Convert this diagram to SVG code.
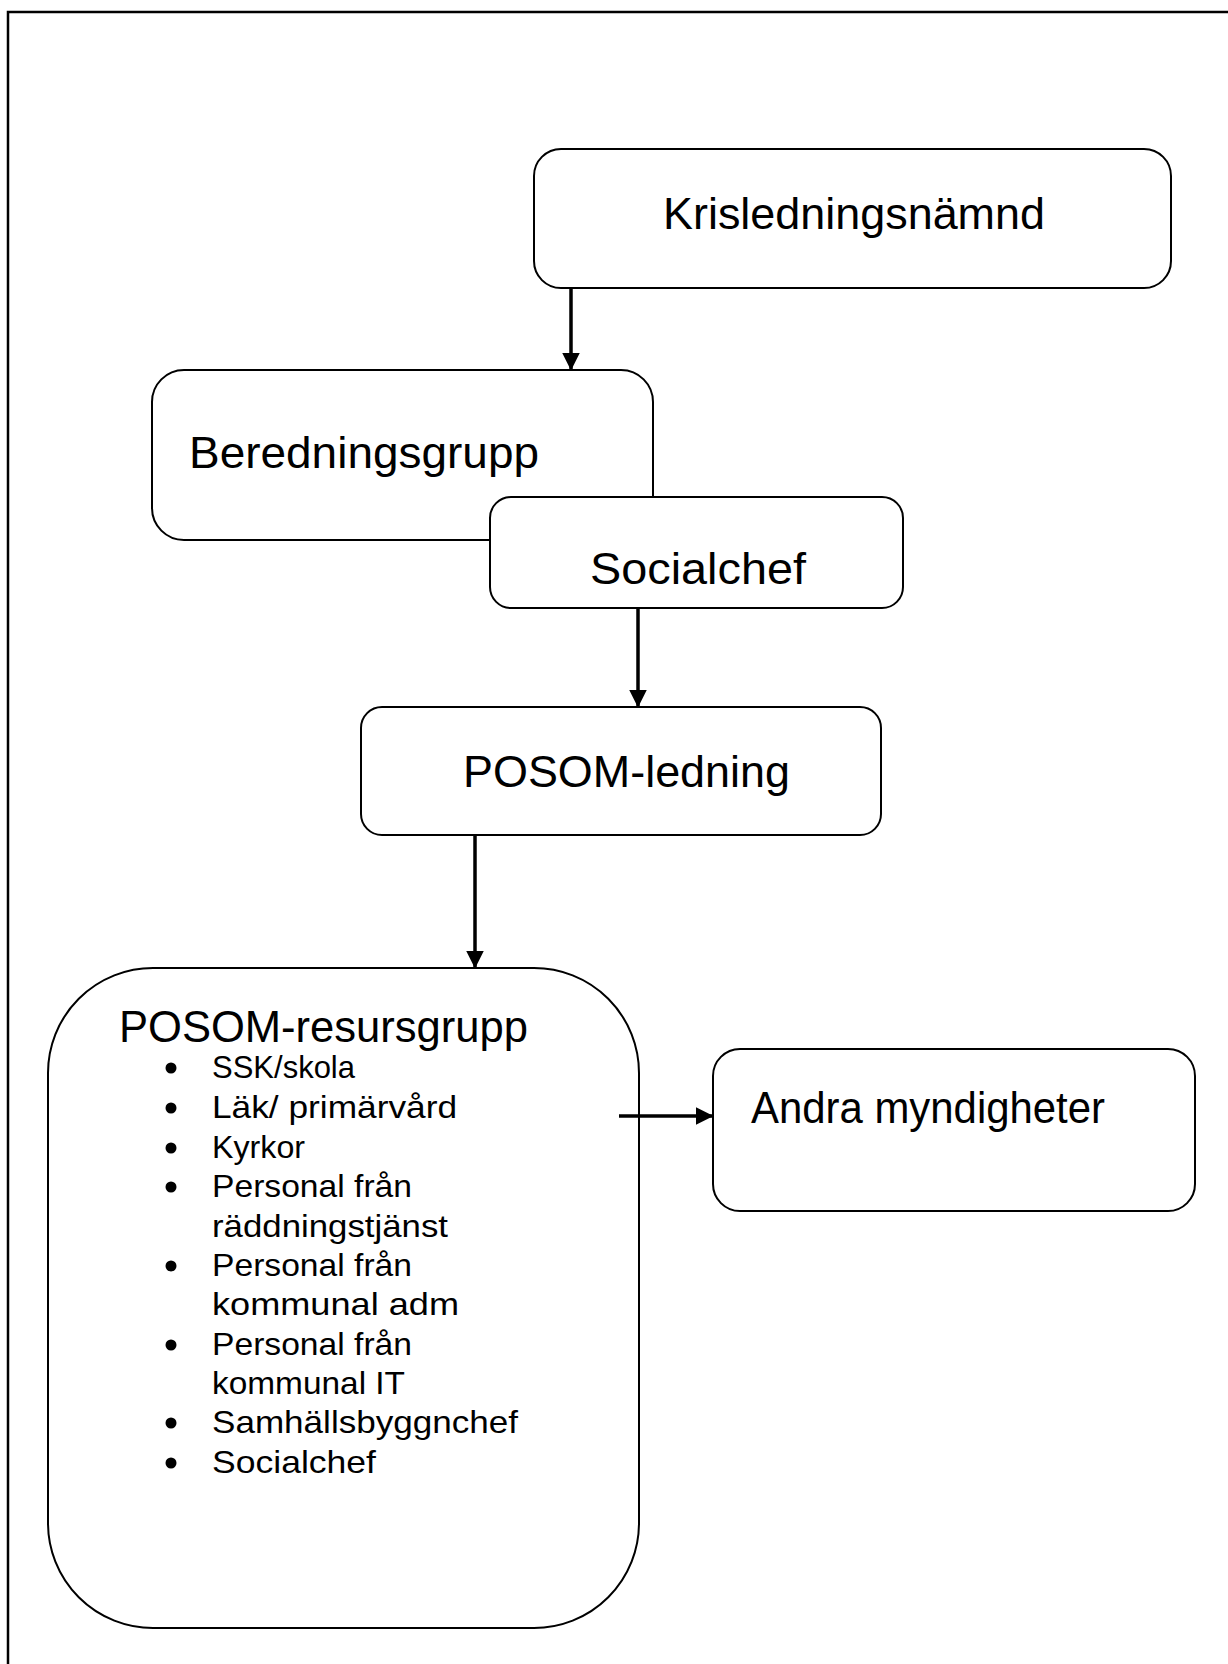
<svg xmlns="http://www.w3.org/2000/svg" width="1228" height="1664" viewBox="0 0 1228 1664">
<style>
.box{fill:#fff;stroke:#000;stroke-width:2}
.lbl{font-family:"Liberation Sans",Arial,sans-serif;font-size:44px;fill:#000}
.item{font-family:"Liberation Sans",Arial,sans-serif;font-size:32px;fill:#000}
.conn{stroke:#000;stroke-width:3.5;fill:none}
</style>
<defs>
<marker id="ah" markerWidth="5" markerHeight="5" refX="4.2" refY="2.3" orient="auto" markerUnits="strokeWidth" viewBox="0 0 4.6 4.6">
<path d="M0,0 L4.6,2.3 L0,4.6 z" fill="#000"/>
</marker>
</defs>
<rect width="1228" height="1664" fill="#fff"/>
<path d="M8,1664 V12 H1228" fill="none" stroke="#000" stroke-width="2.5"/>
<g id="node-krisledningsnamnd">
<rect class="box" x="534" y="149" width="637" height="139" rx="27"/>
<text class="lbl" x="663" y="229" textLength="382" lengthAdjust="spacingAndGlyphs">Krisledningsnämnd</text>
</g>
<g id="node-beredningsgrupp">
<rect class="box" x="152" y="370" width="501" height="170" rx="32"/>
<text class="lbl" x="189" y="468" textLength="350" lengthAdjust="spacingAndGlyphs">Beredningsgrupp</text>
</g>
<g id="node-socialchef">
<rect class="box" x="490" y="497" width="413" height="111" rx="21"/>
<text class="lbl" x="590" y="584" textLength="216" lengthAdjust="spacingAndGlyphs">Socialchef</text>
</g>
<g id="node-posom-ledning">
<rect class="box" x="361" y="707" width="520" height="128" rx="21"/>
<text class="lbl" x="463" y="787" textLength="327" lengthAdjust="spacingAndGlyphs">POSOM-ledning</text>
</g>
<g id="node-posom-resursgrupp">
<rect class="box" x="48" y="968" width="591" height="660" rx="105"/>
<text class="lbl" x="119" y="1042" textLength="409" lengthAdjust="spacingAndGlyphs">POSOM-resursgrupp</text>
<g fill="#000">
<circle cx="171" cy="1068" r="5.5"/>
<circle cx="171" cy="1108" r="5.5"/>
<circle cx="171" cy="1148" r="5.5"/>
<circle cx="171" cy="1187" r="5.5"/>
<circle cx="171" cy="1266" r="5.5"/>
<circle cx="171" cy="1345" r="5.5"/>
<circle cx="171" cy="1423" r="5.5"/>
<circle cx="171" cy="1463" r="5.5"/>
</g>
<text class="item" x="212" y="1078" textLength="143" lengthAdjust="spacingAndGlyphs">SSK/skola</text>
<text class="item" x="212" y="1118" textLength="245" lengthAdjust="spacingAndGlyphs">Läk/ primärvård</text>
<text class="item" x="212" y="1158" textLength="93" lengthAdjust="spacingAndGlyphs">Kyrkor</text>
<text class="item" x="212" y="1197" textLength="200" lengthAdjust="spacingAndGlyphs">Personal från</text>
<text class="item" x="212" y="1237" textLength="236" lengthAdjust="spacingAndGlyphs">räddningstjänst</text>
<text class="item" x="212" y="1276" textLength="200" lengthAdjust="spacingAndGlyphs">Personal från</text>
<text class="item" x="212" y="1315" textLength="247" lengthAdjust="spacingAndGlyphs">kommunal adm</text>
<text class="item" x="212" y="1355" textLength="200" lengthAdjust="spacingAndGlyphs">Personal från</text>
<text class="item" x="212" y="1394" textLength="193" lengthAdjust="spacingAndGlyphs">kommunal IT</text>
<text class="item" x="212" y="1433" textLength="306" lengthAdjust="spacingAndGlyphs">Samhällsbyggnchef</text>
<text class="item" x="212" y="1473" textLength="164" lengthAdjust="spacingAndGlyphs">Socialchef</text>
</g>
<g id="node-andra-myndigheter">
<rect class="box" x="713" y="1049" width="482" height="162" rx="27"/>
<text class="lbl" x="751" y="1123" textLength="354" lengthAdjust="spacingAndGlyphs">Andra myndigheter</text>
</g>
<g id="connectors">
<line class="conn" x1="571" y1="288" x2="571" y2="369" marker-end="url(#ah)"/>
<line class="conn" x1="638" y1="608" x2="638" y2="706" marker-end="url(#ah)"/>
<line class="conn" x1="475" y1="835" x2="475" y2="967" marker-end="url(#ah)"/>
<line class="conn" x1="619" y1="1116" x2="712" y2="1116" marker-end="url(#ah)"/>
</g>
</svg>
